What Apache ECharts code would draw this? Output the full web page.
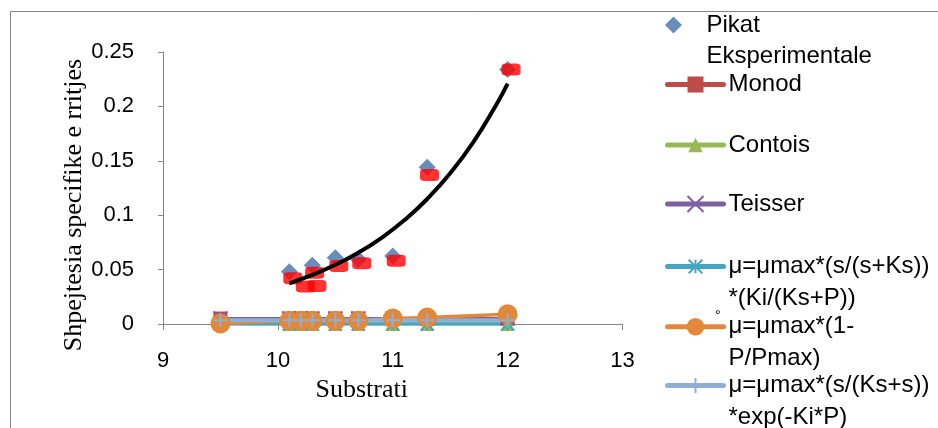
<!DOCTYPE html>
<html>
<head>
<meta charset="utf-8">
<script src="https://cdn.jsdelivr.net/npm/echarts@6/dist/echarts.min.js"></script>
<style>html,body{margin:0;padding:0;background:#fff}#c{width:938px;height:428px}</style>
</head>
<body>
<div id="c"></div>
<script>
// ---- data ----
const seriesNames = ['Pikat Eksperimentale','Monod','Contois','Teisser','μ=μmax*(s/(s+Ks))*(Ki/(Ks+P))','μ=μmax*(1-P/Pmax)','μ=μmax*(s/(Ks+s))*exp(-Ki*P)'];
const legendLines = [['','Pikat','Eksperimentale'],['Monod'],['Contois'],['Teisser'],['','μ=μmax*(s/(s+Ks))','*(Ki/(Ks+P))'],['','μ=μmax*(1-','P/Pmax)'],['','μ=μmax*(s/(Ks+s))','*exp(-Ki*P)']];
const xExp = [10.1, 10.3, 10.5, 10.7, 11, 11.3, 12];
const yExp = [0.048, 0.054, 0.061, 0.0595, 0.0625, 0.144, 0.234];
const xRed = [10.13, 10.24, 10.34, 10.32, 10.53, 10.73, 11.03, 11.32, 12.03];
const yRed = [0.042, 0.0345, 0.035, 0.047, 0.0533, 0.0558, 0.0582, 0.137, 0.234];
const xModel = [9.5, 10.1, 10.2, 10.3, 10.5, 10.7, 11, 11.3, 12];
const monod   = [0.005, 0.005, 0.005, 0.005, 0.005, 0.005, 0.005, 0.005, 0.005];
const contois = [0, 0, 0, 0, 0, 0, 0, 0, 0];
const teisser = [0.005, 0.005, 0.005, 0.005, 0.005, 0.005, 0.005, 0.005, 0.005];
const modelKi = [0, 0, 0, 0, 0, 0, 0, 0, 0];
const modelPmax = [0.0005, 0.003, 0.003, 0.003, 0.003, 0.003, 0.005, 0.006, 0.009];
const modelExp = [0.0035, 0.0035, 0.0035, 0.0035, 0.0035, 0.0035, 0.0035, 0.0035, 0.0035];
const xTrend = [10.1, 10.3, 10.5, 10.7, 10.9, 11.1, 11.3, 11.5, 11.7, 11.9, 12.0];
const yTrend = [0.0374, 0.0451, 0.0544, 0.0655, 0.079, 0.0953, 0.1149, 0.1385, 0.1669, 0.2013, 0.221];
const xTicks = {min: 9, max: 13, step: 1};
const yTicks = {min: 0, max: 0.25, step: 0.05};

// ---- chart ----
const pair = (xs, ys) => xs.map((x, i) => [x, ys[i]]);
const sans = 'Liberation Sans';
const serif = 'Liberation Serif';
const colors = ['#4471A9', '#BE4B48', '#98B954', '#7D60A0', '#46A5BE', '#E2883A', '#93AED4'];
const symbols = [
  'diamond', 'rect', 'triangle',
  'path://M0,0L10,10M10,0L0,10',
  'path://M5,0L5,10M0,0L10,10M10,0L0,10',
  'circle',
  'path://M5,0L5,10M0,5L10,5'
];
const symSizes = [17, 14, 14, 14, 13, 20, 14];
const lineWidths = [0, 3, 3, 3, 3.5, 3.5, 4];
const modelData = [monod, contois, teisser, modelKi, modelPmax, modelExp];

const series = [];
series.push({
  name: seriesNames[0], type: 'scatter', data: pair(xExp, yExp),
  symbol: 'diamond', symbolSize: 17, itemStyle: {color: colors[0]}, z: 2
});
modelData.forEach((d, k) => {
  const i = k + 1;
  const strokeOnly = symbols[i].startsWith('path://');
  series.push({
    name: seriesNames[i], type: 'line', data: pair(xModel, d),
    symbol: symbols[i], symbolSize: symSizes[i], showSymbol: true,
    lineStyle: {color: colors[i], width: lineWidths[i]},
    itemStyle: strokeOnly ? {color: colors[i], borderColor: colors[i], borderWidth: 2} : {color: colors[i]},
    z: 2
  });
});
series.push({
  name: 'red', type: 'scatter', data: pair(xRed, yRed),
  symbol: 'roundRect', symbolSize: [19, 12], itemStyle: {color: '#FF0000'}, z: 3
});
series.push({
  name: 'trend', type: 'line', data: pair(xTrend, yTrend), smooth: true,
  showSymbol: false, symbol: 'none', lineStyle: {color: '#000', width: 4}, z: 4
});

const LH = 31.5;
const iconY = [25, 84.5, 145, 204, 266.5, 326.7, 385.5];
const iconH = [17, 20, 18, 20, 17, 22, 19];
const legends = seriesNames.map((n, i) => {
  const nl = legendLines[i].length;
  const lg = {
    data: [n], left: 665, top: iconY[i] - nl * LH / 2, padding: 0,
    itemWidth: 56, itemHeight: iconH[i], selectedMode: false,
    formatter: () => legendLines[i].join('\n'),
    textStyle: {fontFamily: sans, fontSize: 24, lineHeight: LH, color: '#000'},
    lineStyle: {width: 5, cap: 'round'}
  };
  if (i === 0) lg.icon = 'path://M1,0L2,1L1,2L0,1Z';
  if (symbols[i].startsWith('path://')) lg.itemStyle = {borderWidth: 2};
  return lg;
});

const chart = echarts.init(document.getElementById('c'), null, {renderer: 'canvas'});
chart.setOption({
  animation: false,
  backgroundColor: '#fff',
  grid: {left: 163, top: 52, width: 459.5, height: 272, containLabel: false},
  xAxis: {
    type: 'value', min: xTicks.min, max: xTicks.max, interval: xTicks.step,
    name: 'Substrati', nameLocation: 'middle', nameGap: 50,
    nameTextStyle: {fontFamily: serif, fontSize: 26, color: '#000', padding: [0, 62, 0, 0]},
    axisLine: {show: true, lineStyle: {color: '#868686', width: 1}},
    axisTick: {show: true, length: 6, lineStyle: {color: '#868686'}},
    axisLabel: {fontFamily: sans, fontSize: 22, color: '#000', margin: 26},
    splitLine: {show: false}
  },
  yAxis: {
    type: 'value', min: yTicks.min, max: yTicks.max, interval: yTicks.step,
    name: 'Shpejtesia specifike e rritjes', nameLocation: 'middle', nameGap: 72,
    nameTextStyle: {fontFamily: serif, fontSize: 26, color: '#000', padding: [0, 34, 0, 0]},
    axisLine: {show: true, lineStyle: {color: '#868686', width: 1}},
    axisTick: {show: true, length: 5, lineStyle: {color: '#868686'}},
    axisLabel: {fontFamily: sans, fontSize: 22, color: '#000', margin: 29},
    splitLine: {show: false}
  },
  legend: legends,
  graphic: [
    {type: 'rect', shape: {x: 10.5, y: 11.5, width: 940, height: 430}, style: {fill: 'none', stroke: '#868686', lineWidth: 1}, silent: true, z: -1},
    {type: 'text', x: 715, y: 309, style: {text: '°', font: '14px Liberation Sans', fill: '#000'}, silent: true}
  ],
  series: series
});
</script>
</body>
</html>
